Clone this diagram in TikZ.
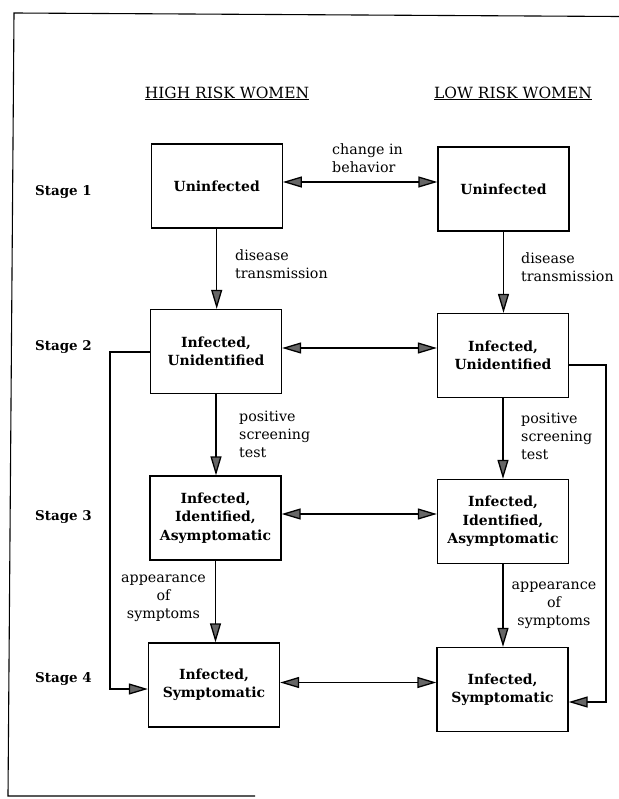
\documentclass[tikz,border=0pt]{standalone}
\usepackage{fontspec}
\setmainfont{DejaVu Serif}
\usetikzlibrary{arrows.meta,calc}
\tikzset{
 box/.style={draw, line width=1.3bp, minimum width=131bp, minimum height=84bp, inner sep=0pt, align=center, font=\fontsize{14}{18.5}\selectfont\bfseries},
 lbl/.style={align=left, anchor=west, inner sep=0pt, font=\fontsize{14.3}{18}\selectfont},
 clbl/.style={align=center, inner sep=0pt, font=\fontsize{14.3}{18}\selectfont},
 stagelbl/.style={anchor=base west, inner sep=0pt, font=\fontsize{13.5}{16}\selectfont\bfseries},
 head/.style={anchor=base, inner sep=0pt, font=\fontsize{15.5}{18}\selectfont},
 conn/.style={line width=1.3bp, -{Triangle[length=19bp,width=11bp,fill=black!60]}},
 dconn/.style={line width=1.3bp, {Triangle[length=19bp,width=11bp,fill=black!60]}-{Triangle[length=19bp,width=11bp,fill=black!60]}},
 frameline/.style={line width=1.1bp}
}
\begin{document}
\begin{tikzpicture}[x=1bp,y=-1bp]
\useasboundingbox (0,0) rectangle (619,799);
\draw[frameline] (619,16.5) -- (14,13) -- (8,796) -- (255,796);

\node[head] (hh) at (227,98) {\underline{HIGH RISK WOMEN}};
\node[head] (hl) at (513,98) {\underline{LOW RISK WOMEN}};

\node[stagelbl] (s1) at (35,195) {Stage 1};
\node[stagelbl] (s2) at (35,350) {Stage 2};
\node[stagelbl] (s3) at (35,520) {Stage 3};
\node[stagelbl] (s4) at (35,682) {Stage 4};

\node[box] (L1) at (216.7,186) {Uninfected};
\node[box] (R1) at (503.5,189) {Uninfected};
\node[box] (L2) at (216,351.5) {Infected,\\Unidentified};
\node[box] (R2) at (503,355.5) {Infected,\\Unidentified};
\node[box] (L3) at (215.5,518) {Infected,\\Identified,\\Asymptomatic};
\node[box] (R3) at (503,521.5) {Infected,\\Identified,\\Asymptomatic};
\node[box] (L4) at (214,685) {Infected,\\Symptomatic};
\node[box] (R4) at (502.5,689.5) {Infected,\\Symptomatic};

\node[lbl] (cb) at (332,158.5) {change in\\behavior};
\node[lbl] (dtL) at (235,264.5) {disease\\transmission};
\node[lbl] (dtR) at (521,267) {disease\\transmission};
\node[lbl] (psL) at (239,434) {positive\\screening\\test};
\node[lbl] (psR) at (521,436) {positive\\screening\\test};
\node[clbl] (asL) at (163.5,598) {appearance\\of\\symptoms};
\node[clbl] (asR) at (554,605) {appearance\\of\\symptoms};

% vertical transitions
\draw[conn] (L1.south) -- (L1.south |- L2.north);
\draw[conn] (R1.south) -- (R1.south |- R2.north);
\draw[conn] (L2.south) -- (L2.south |- L3.north);
\draw[conn] (R2.south) -- (R2.south |- R3.north);
\draw[conn] (L3.south) -- (L3.south |- L4.north);
\draw[conn] (R3.south) -- (R3.south |- R4.north);

% horizontal two-way transitions
\draw[dconn] (L1.east |- 0,182) -- (R1.west |- 0,182);
\draw[dconn] (L2.east |- 0,348) -- (R2.west |- 0,348);
\draw[dconn] (L3.east |- 0,514) -- (R3.west |- 0,514);
\draw[dconn] (L4.east |- 0,682.5) -- (R4.west |- 0,682.5);

% bypass connectors
\coordinate (bl1) at (110,352);
\coordinate (bl2) at (110,689);
\draw[conn] (L2.west |- bl1) -- (bl1) -- (bl2) -- (L4.west |- bl2);
\coordinate (br1) at (606,365);
\coordinate (br2) at (606,702);
\draw[conn] (R2.east |- br1) -- (br1) -- (br2) -- (R4.east |- br2);
\end{tikzpicture}
\end{document}
